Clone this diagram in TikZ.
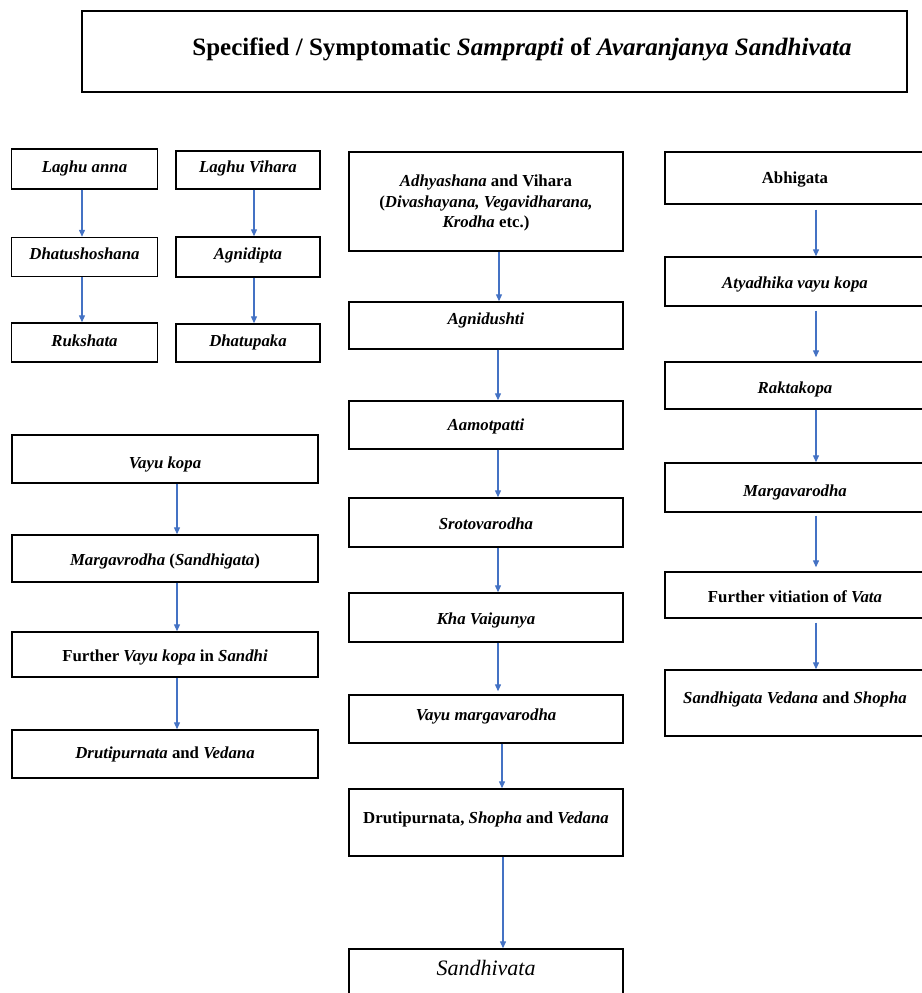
\documentclass[tikz,border=0pt]{standalone}
\usepackage{fontspec}
\setmainfont{Liberation Serif}
\usepackage{xcolor}
\usepackage{tikz}
\usetikzlibrary{arrows.meta,positioning}
\definecolor{arrowblue}{RGB}{68,114,196}
\tikzset{
  stagebox/.style={draw, line width=1.4pt, inner sep=2pt, align=center, font=\bfseries\fontsize{16.8}{20.5}\selectfont},
  smallbox/.style={stagebox, minimum width=146pt, minimum height=39pt},
  widebox/.style={stagebox, minimum width=306pt, minimum height=47pt},
  midbox/.style={stagebox, minimum width=274pt, minimum height=48pt},
  rightbox/.style={stagebox, minimum width=260pt, minimum height=48pt},
  raised/.style={text depth=#1},
  lowered/.style={text height=#1},
  flowarrow/.style={-{Triangle[length=7pt,width=6pt]}, line width=1.2pt, draw=arrowblue},
}

\begin{document}
\begin{tikzpicture}[x=1pt,y=-1pt]
  \useasboundingbox (0,0) rectangle (921,993);

  % Title
  \node[stagebox, minimum width=825pt, minimum height=81pt, raised=10pt,
        font=\bfseries\fontsize{25}{28}\selectfont] (title) at (494.5,51.5)
    {\hspace*{55pt}Specified / Symptomatic \textit{Samprapti} of \textit{Avaranjanya Sandhivata}};

  % Left, upper pair of chains
  \node[smallbox, minimum height=40pt, raised=4pt] (lanna) at (84.5,169) {\textit{Laghu anna}};
  \node[smallbox, raised=7.5pt] (dshosh) at (84.5,257) {\textit{Dhatushoshana}};
  \node[smallbox, raised=4pt] (ruksh) at (84.5,342.5) {\textit{Rukshata}};

  \node[smallbox, minimum width=144pt, minimum height=38pt, raised=6pt] (lvihara) at (248,170) {\textit{Laghu Vihara}};
  \node[smallbox, minimum width=144pt, minimum height=40pt, raised=7.5pt] (agnidipta) at (248,257) {\textit{Agnidipta}};
  \node[smallbox, minimum width=144pt, minimum height=38pt, raised=4pt] (dpaka) at (248,343) {\textit{Dhatupaka}};

  % Left, lower chain
  \node[widebox, minimum height=48pt, lowered=22pt] (vkopa) at (165,459) {\textit{Vayu kopa}};
  \node[widebox, lowered=18pt] (margav) at (165,558.5) {\textit{Margavrodha} (\textit{Sandhigata})};
  \node[widebox, minimum height=45pt, lowered=17.5pt] (furthervk) at (165,654.5) {Further \textit{Vayu kopa} in \textit{Sandhi}};
  \node[widebox, minimum height=48pt, lowered=13.5pt] (druti) at (165,754) {\textit{Drutipurnata} and \textit{Vedana}};

  % Middle chain
  \node[midbox, minimum height=99pt, raised=-3pt] (adhya) at (486,201.5)
    {\textit{Adhyashana} and Vihara\\(\textit{Divashayana, Vegavidharana,}\\\textit{Krodha} etc.)};
  \node[midbox, minimum height=47pt, raised=14pt] (agnidushti) at (486,325.5) {\textit{Agnidushti}};
  \node[midbox, lowered=15.5pt] (aamot) at (486,425) {\textit{Aamotpatti}};
  \node[midbox, minimum height=49pt, lowered=13.5pt] (sroto) at (486,522.5) {\textit{Srotovarodha}};
  \node[midbox, minimum height=49pt, lowered=17.5pt] (kha) at (486,617.5) {\textit{Kha Vaigunya}};
  \node[midbox, raised=8pt] (vmarg) at (486,719) {\textit{Vayu margavarodha}};
  \node[midbox, minimum height=67pt, raised=10pt] (drutis) at (486,822.5) {Drutipurnata, \textit{Shopha} and \textit{Vedana}};
  \node[midbox, minimum height=51pt, raised=13pt,
        font=\fontsize{22}{25}\selectfont] (sandhivata) at (486,974.5) {\textit{Sandhivata}};

  % Right chain
  \node[rightbox, minimum height=52pt, lowered=15.5pt] (abhigata) at (795,178) {Abhigata};
  \node[rightbox, minimum height=49pt, lowered=17.5pt] (atyadhika) at (795,281.5) {\textit{Atyadhika vayu kopa}};
  \node[rightbox, minimum height=47pt, lowered=19.5pt] (raktakopa) at (795,385.5) {\textit{Raktakopa}};
  \node[rightbox, minimum height=49pt, lowered=21.5pt] (margavar) at (795,487.5) {\textit{Margavarodha}};
  \node[rightbox, minimum height=46pt, lowered=15.5pt] (furthervit) at (795,595) {Further vitiation of \textit{Vata}};
  \node[rightbox, minimum height=66pt, raised=10pt] (sandhigata) at (795,703) {\textit{Sandhigata Vedana} and \textit{Shopha}};

  % Arrows
  \draw[flowarrow] ([xshift=-2.5pt]lanna.south) -- ([xshift=-2.5pt]dshosh.north);
  \draw[flowarrow] ([xshift=-2.5pt]dshosh.south) -- ([xshift=-2.5pt]ruksh.north);
  \draw[flowarrow] ([xshift=6pt]lvihara.south) -- ([xshift=6pt]agnidipta.north);
  \draw[flowarrow] ([xshift=6pt]agnidipta.south) -- ([xshift=6pt]dpaka.north);

  \draw[flowarrow] ([xshift=12pt]vkopa.south) -- ([xshift=12pt]margav.north);
  \draw[flowarrow] ([xshift=12pt]margav.south) -- ([xshift=12pt]furthervk.north);
  \draw[flowarrow] ([xshift=12pt]furthervk.south) -- ([xshift=12pt]druti.north);

  \draw[flowarrow] ([xshift=13pt]adhya.south) -- ([xshift=13pt]agnidushti.north);
  \draw[flowarrow] ([xshift=12pt]agnidushti.south) -- ([xshift=12pt]aamot.north);
  \draw[flowarrow] ([xshift=12pt]aamot.south) -- ([xshift=12pt]sroto.north);
  \draw[flowarrow] ([xshift=12pt]sroto.south) -- ([xshift=12pt]kha.north);
  \draw[flowarrow, shorten >=3pt] ([xshift=12pt]kha.south) -- ([xshift=12pt]vmarg.north);
  \draw[flowarrow] ([xshift=16pt]vmarg.south) -- ([xshift=16pt]drutis.north);
  \draw[flowarrow] ([xshift=17pt]drutis.south) -- ([xshift=17pt]sandhivata.north);

  \draw[flowarrow, shorten <=5pt] ([xshift=21pt]abhigata.south) -- ([xshift=21pt]atyadhika.north);
  \draw[flowarrow, shorten <=4pt, shorten >=4pt] ([xshift=21pt]atyadhika.south) -- ([xshift=21pt]raktakopa.north);
  \draw[flowarrow] ([xshift=21pt]raktakopa.south) -- ([xshift=21pt]margavar.north);
  \draw[flowarrow, shorten <=3pt, shorten >=4pt] ([xshift=21pt]margavar.south) -- ([xshift=21pt]furthervit.north);
  \draw[flowarrow, shorten <=4pt] ([xshift=21pt]furthervit.south) -- ([xshift=21pt]sandhigata.north);
\end{tikzpicture}
\end{document}
